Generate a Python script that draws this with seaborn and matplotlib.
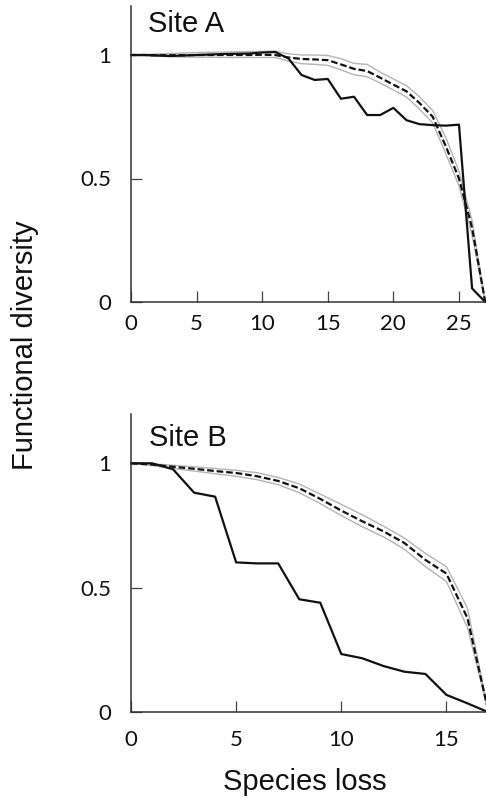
import numpy as np
import pandas as pd
import matplotlib
matplotlib.use("Agg")
import matplotlib.pyplot as plt
import seaborn as sns

# ---- data ----
loss_A = list(range(0, 28))
obs_A = [1.0, 1.0, 0.998, 0.996, 0.998, 1.0, 1.002, 1.004, 1.005, 1.006, 1.01, 1.012,
         0.986, 0.919, 0.899, 0.903, 0.823, 0.831, 0.757, 0.757, 0.786, 0.736, 0.72,
         0.716, 0.714, 0.718, 0.055, 0.0]
mean_A = [1.0, 1.0, 0.999, 0.999, 0.999, 1.0, 1.0, 1.0, 1.0, 1.0, 1.001, 1.0,
          0.99, 0.984, 0.982, 0.979, 0.962, 0.944, 0.935, 0.908, 0.88, 0.853, 0.805,
          0.75, 0.63, 0.5, 0.3, 0.0]
upper_A = [1.0, 1.002, 1.004, 1.006, 1.008, 1.01, 1.011, 1.012, 1.013, 1.014, 1.015, 1.016,
           1.005, 1.0, 1.0, 0.998, 0.985, 0.966, 0.962, 0.93, 0.903, 0.876, 0.83,
           0.775, 0.665, 0.53, 0.33, 0.0]
lower_A = [1.0, 0.998, 0.995, 0.993, 0.992, 0.991, 0.991, 0.99, 0.99, 0.99, 0.99, 0.99,
           0.975, 0.965, 0.962, 0.958, 0.94, 0.92, 0.912, 0.886, 0.858, 0.83, 0.78,
           0.725, 0.6, 0.47, 0.27, 0.0]

loss_B = list(range(0, 18))
obs_B = [1.0, 1.0, 0.976, 0.882, 0.866, 0.602, 0.598, 0.598, 0.454, 0.44, 0.234, 0.217,
         0.186, 0.163, 0.154, 0.07, 0.036, 0.0]
mean_B = [1.0, 0.995, 0.986, 0.978, 0.969, 0.961, 0.948, 0.929, 0.9, 0.857, 0.81, 0.767,
          0.727, 0.68, 0.612, 0.557, 0.378, 0.0]
upper_B = [1.0, 0.998, 0.992, 0.986, 0.979, 0.972, 0.962, 0.943, 0.917, 0.876, 0.835, 0.793,
           0.748, 0.7, 0.638, 0.585, 0.418, 0.0]
lower_B = [1.0, 0.991, 0.979, 0.969, 0.958, 0.948, 0.934, 0.914, 0.882, 0.838, 0.79, 0.745,
           0.705, 0.655, 0.585, 0.525, 0.34, 0.0]

xticks_A = [0, 5, 10, 15, 20, 25]
xticks_B = [0, 5, 10, 15]
yticks = [0, 0.5, 1]
ytick_labels = ["0", "0.5", "1"]
site_labels = ["Site A", "Site B"]

sns.set_style("ticks")
plt.rcParams["font.family"] = ["Liberation Sans", "DejaVu Sans"]

W, H = 486, 801
fig = plt.figure(figsize=(W / 100, H / 100), dpi=100)

def px_axes(x0, x1, ytop, ybot):
    return fig.add_axes([x0 / W, 1 - ybot / H, (x1 - x0) / W, (ybot - ytop) / H])

axA = px_axes(131, 485.2, 5.6, 302)
axB = px_axes(131, 488.5, 413.5, 712.3)

grey = "#b4b4b4"
panels = [
    (axA, loss_A, obs_A, mean_A, upper_A, lower_A, 27, xticks_A, site_labels[0], 1.3, 1.093, 9),
    (axB, loss_B, obs_B, mean_B, upper_B, lower_B, 17, xticks_B, site_labels[1], 0.87, 1.07, 13),
]

for ax, x, obs, mean, up, lo, xmax, xt, lab, tx, ty, xpad in panels:
    df = pd.DataFrame({"loss": x, "obs": obs, "mean": mean, "up": up, "lo": lo})
    sns.lineplot(data=df, x="loss", y="up", ax=ax, color=grey, lw=1.0, clip_on=False)
    sns.lineplot(data=df, x="loss", y="lo", ax=ax, color=grey, lw=1.0, clip_on=False)
    sns.lineplot(data=df, x="loss", y="mean", ax=ax, color="#111111", lw=1.6,
                 linestyle=(0, (3.0, 1.3)), clip_on=False)
    sns.lineplot(data=df, x="loss", y="obs", ax=ax, color="#111111", lw=1.6, clip_on=False)
    ax.set_xlim(0, xmax)
    ax.set_ylim(0, 1.2)
    ax.set_xticks(xt)
    ax.set_yticks(yticks)
    ax.set_yticklabels(ytick_labels)
    ax.set_xlabel("")
    ax.set_ylabel("")
    sns.despine(ax=ax)
    for s in ["left", "bottom"]:
        ax.spines[s].set_color("#333333")
        ax.spines[s].set_linewidth(1.1)
    ax.tick_params(axis="both", direction="in", length=8, width=0.9, color="#444444",
                   labelsize=16, labelcolor="#111111")
    ax.tick_params(axis="y", pad=14)
    ax.tick_params(axis="x", pad=xpad)
    for t in ax.get_xticklabels() + ax.get_yticklabels():
        t.set_fontfamily(["Lato", "DejaVu Sans"])
    ax.text(tx, ty, lab, fontsize=21, color="#111111", va="baseline", ha="left")
    ax.patch.set_alpha(0)

fig.text(25 / W, 1 - 345 / H, "Functional diversity", rotation=90, fontsize=21,
         ha="center", va="center", color="#111111")
fig.text(305 / W, 1 - 790 / H, "Species loss", fontsize=21, ha="center",
         va="baseline", color="#111111")

fig.savefig("out.png", dpi=100)
